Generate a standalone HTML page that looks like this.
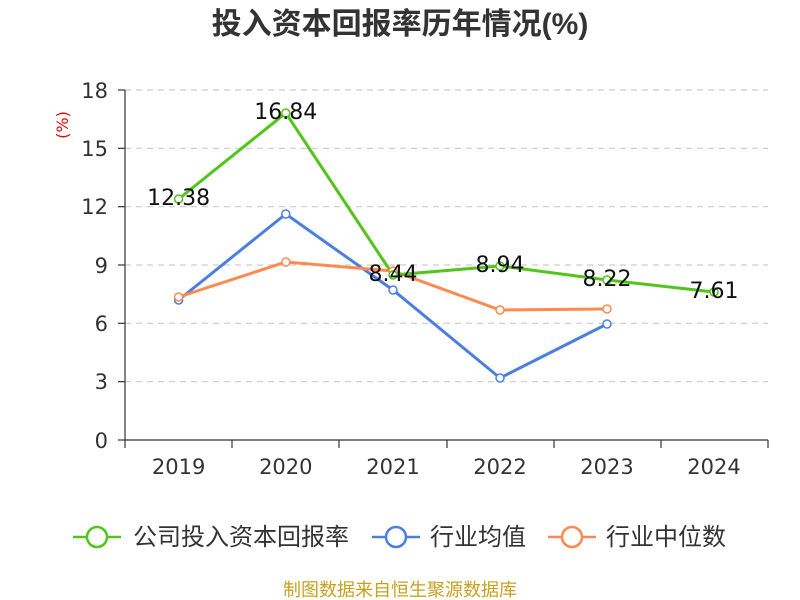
<!DOCTYPE html>
<html><head><meta charset="utf-8"><style>body{margin:0;background:#fff}svg{display:block}text{font-family:"DejaVu Sans","Noto Sans CJK SC",sans-serif}</style></head><body>
<svg width="800" height="600" xmlns="http://www.w3.org/2000/svg">
<text x="400" y="34" text-anchor="middle" font-size="30" font-weight="bold" fill="#333" style="font-family:'Liberation Sans','Noto Sans CJK SC',sans-serif">投入资本回报率历年情况(%)</text>
<text x="68" y="125" font-size="16" fill="#e00" transform="rotate(-90 68 125)" text-anchor="middle">(%)</text>
<g stroke="#ccc" stroke-dasharray="6,5" stroke-width="1.2">
<line x1="125" x2="768" y1="90" y2="90"/><line x1="125" x2="768" y1="148.3" y2="148.3"/><line x1="125" x2="768" y1="206.7" y2="206.7"/><line x1="125" x2="768" y1="265" y2="265"/><line x1="125" x2="768" y1="323.3" y2="323.3"/><line x1="125" x2="768" y1="381.7" y2="381.7"/></g>
<g stroke="#333" stroke-width="1.2">
<line x1="125" x2="125" y1="90" y2="440"/><line x1="125" x2="768" y1="440" y2="440"/>
<line x1="118" x2="125" y1="90" y2="90"/><line x1="118" x2="125" y1="148.3" y2="148.3"/><line x1="118" x2="125" y1="206.7" y2="206.7"/><line x1="118" x2="125" y1="265" y2="265"/><line x1="118" x2="125" y1="323.3" y2="323.3"/><line x1="118" x2="125" y1="381.7" y2="381.7"/><line x1="118" x2="125" y1="440" y2="440"/>
<line x1="125" x2="125" y1="440" y2="448"/><line x1="232" x2="232" y1="440" y2="448"/><line x1="339" x2="339" y1="440" y2="448"/><line x1="447" x2="447" y1="440" y2="448"/><line x1="554" x2="554" y1="440" y2="448"/><line x1="661" x2="661" y1="440" y2="448"/><line x1="768" x2="768" y1="440" y2="448"/></g>
<g font-size="21" fill="#333" text-anchor="end">
<text x="108" y="98">18</text><text x="108" y="156">15</text><text x="108" y="214">12</text><text x="108" y="273">9</text><text x="108" y="331">6</text><text x="108" y="389">3</text><text x="108" y="448">0</text></g>
<g font-size="21" fill="#333" text-anchor="middle">
<text x="178.6" y="474">2019</text><text x="285.8" y="474">2020</text><text x="393" y="474">2021</text><text x="500" y="474">2022</text><text x="607" y="474">2023</text><text x="714" y="474">2024</text></g>
<g fill="none" stroke-width="3">
<polyline stroke="#4a7fe0" points="178.6,300 285.8,214 393,290 500,378 607,324"/>
<polyline stroke="#ff8a50" points="178.6,297 285.8,262 393,271 500,310 607,309"/>
<polyline stroke="#52c41a" points="178.6,199 285.8,113 393,275 500,266 607,280 714,292"/>
</g>
<g fill="#fff" stroke-width="1.5">
<g stroke="#4a7fe0"><circle cx="178.6" cy="300" r="4"/><circle cx="285.8" cy="214" r="4"/><circle cx="393" cy="290" r="4"/><circle cx="500" cy="378" r="4"/><circle cx="607" cy="324" r="4"/></g>
<g stroke="#ff8a50"><circle cx="178.6" cy="297" r="4"/><circle cx="285.8" cy="262" r="4"/><circle cx="393" cy="271" r="4"/><circle cx="500" cy="310" r="4"/><circle cx="607" cy="309" r="4"/></g>
<g stroke="#52c41a"><circle cx="178.6" cy="199" r="4"/><circle cx="285.8" cy="113" r="4"/><circle cx="393" cy="275" r="4"/><circle cx="500" cy="266" r="4"/><circle cx="607" cy="280" r="4"/><circle cx="714" cy="292" r="4"/></g></g>
<g font-size="22" fill="#111" text-anchor="middle">
<text x="178.6" y="205">12.38</text><text x="285.8" y="119">16.84</text><text x="393" y="281">8.44</text><text x="500" y="272">8.94</text><text x="607" y="286">8.22</text><text x="714" y="298">7.61</text></g>
<g stroke-width="2.5" fill="#fff">
<line x1="73" x2="121" y1="537" y2="537" stroke="#52c41a"/><circle cx="97" cy="537" r="10" stroke="#52c41a"/>
<line x1="372" x2="420" y1="537" y2="537" stroke="#4a7fe0"/><circle cx="396" cy="537" r="10" stroke="#4a7fe0"/>
<line x1="548" x2="596" y1="537" y2="537" stroke="#ff8a50"/><circle cx="572" cy="537" r="10" stroke="#ff8a50"/></g>
<g font-size="24" fill="#333"><text x="133" y="545">公司投入资本回报率</text><text x="430" y="545">行业均值</text><text x="606" y="545">行业中位数</text></g>
<text x="400" y="596" text-anchor="middle" font-size="18" fill="#c8a020">制图数据来自恒生聚源数据库</text>
</svg></body></html>
